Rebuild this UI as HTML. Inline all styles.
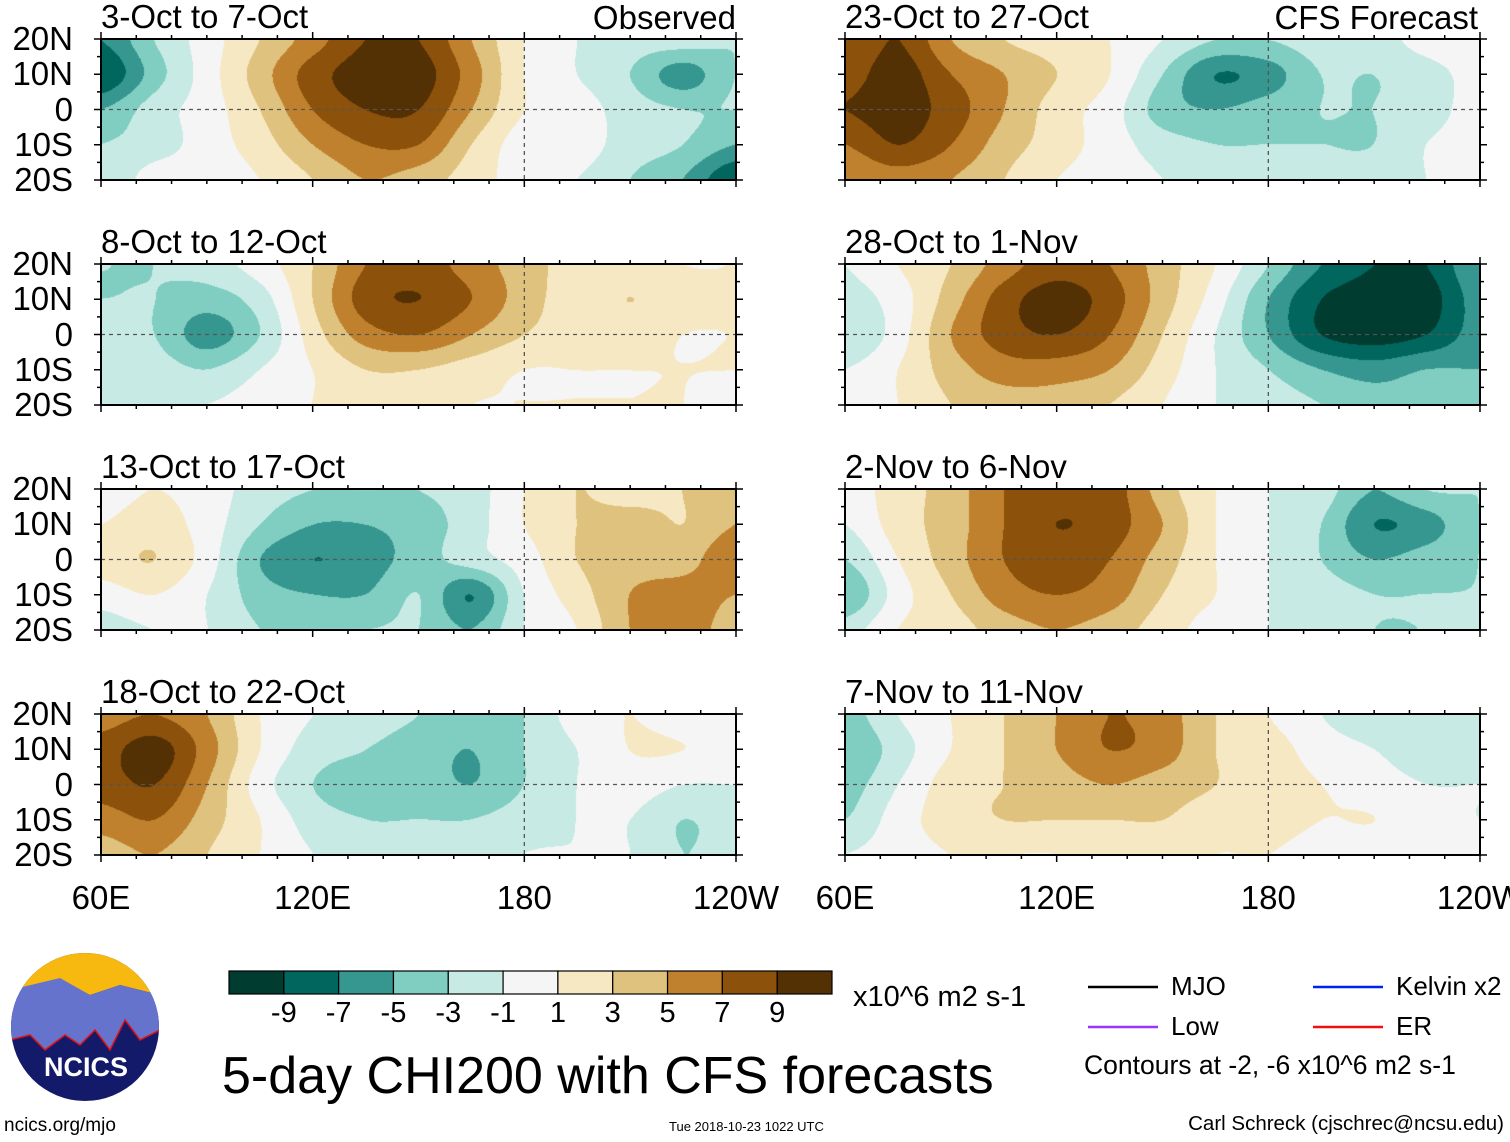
<!DOCTYPE html>
<html><head><meta charset="utf-8"><style>
body{margin:0;background:#fff;width:1510px;height:1142px;position:relative;overflow:hidden;font-family:"Liberation Sans",sans-serif;}
.t{position:absolute;white-space:nowrap;color:#000;line-height:1;}
canvas{position:absolute;}
</style></head><body>
<svg id="ov" width="1510" height="1142" style="position:absolute;left:0;top:0"></svg>
<script>
// CHI200 values, rows 20N,10N,0,10S,20S; columns 60E..120W every 15 deg
const lonCols=[60,75,90,105,120,135,150,165,180,195,210,225,240];
const latRows=[20,10,0,-10,-20];
const p1=[[-7,-3,0,3,6,9,9,5,1,-1,-2,-2,-3],[-9,-4,0,4,8,10,10,6,1,-1,-3,-6,-3],[-5,-2,0,3,7,9,9,5,1,0,-2,-3,-3],[-3,-2,0,2,5,7,7,3,0,0,-2,-3,-5],[-3,0,0,1,3,5,4,2,0,-1,-3,-5,-9]];
const p2=[[7,9,5,3,2,1,-1,-3,-3,-2,-2,0,1],[8,10,7,5,3,1,-3,-7,-6,-3,-3,-2,0],[9,10,8,5,2,0,-4,-5,-4,-3,-3,-2,0],[7,9,7,4,2,0,-2,-3,-3,-3,-3,-1,0],[5,6,5,3,1,0,-1,-2,-2,-2,-2,-1,0]];
const p3=[[-3,-3,-2,0,3,7,8,6,4,2,2,1,1],[-3,-3,-4,-2,3,8,9,7,4,2,3,2,1],[-2,-3,-6,-3,2,6,7,5,3,2,2,1,1],[-2,-2,-3,-1,1,3,3,2,1,1,1,1,1],[-1,-1,-1,0,1,2,2,1,1,1,1,1,0]];
const p4=[[-1,1,3,6,8,7,4,1,-3,-7,-9,-9,-5],[-2,0,4,8,10,8,4,0,-5,-9,-10,-10,-6],[-3,0,5,8,9,7,3,-1,-5,-9,-10,-9,-6],[-1,1,4,6,6,5,2,-1,-3,-5,-6,-5,-5],[0,1,3,4,4,3,1,-1,-2,-3,-4,-4,-3]];
const p5=[[0,1,0,-2,-3,-3,-3,-2,1,3,2,3,5],[1,2,0,-3,-5,-5,-4,-2,1,3,4,3,5],[2,3,0,-5,-7,-6,-4,-2,0,3,4,4,7],[0,1,-1,-4,-5,-5,-3,-7,-1,2,5,6,5],[-2,-1,-1,-3,-3,-3,-3,-5,-1,1,5,6,4]];
const p6=[[0,2,4,7,8,8,4,1,-1,-2,-5,-3,-3],[-1,2,4,7,9,8,5,1,-1,-3,-7,-6,-3],[-3,1,4,7,8,7,4,1,-1,-3,-5,-4,-3],[-5,0,3,6,7,6,3,1,-1,-2,-3,-3,-3],[-2,1,2,4,5,4,2,0,-1,-2,-3,-3,-3]];
const p7=[[6,7,5,1,-1,-2,-3,-4,-3,0,1,0,0],[8,10,6,1,-2,-3,-4,-5,-3,-1,1,1,0],[8,9,5,0,-3,-4,-4,-5,-3,-1,0,-1,-1],[6,7,4,1,-2,-3,-3,-3,-2,-1,-1,-3,-2],[4,5,3,1,-1,-2,-2,-2,-1,-1,-1,-3,-2]];
const p8=[[-4,-1,1,3,5,7,6,3,1,-1,-2,-1,-2],[-5,-2,1,3,5,7,6,3,2,0,-1,-2,-2],[-4,-1,2,3,4,5,4,3,2,1,0,-1,-1],[-3,0,2,3,3,3,3,2,2,1,1,0,-1],[-1,0,1,1,1,2,2,1,1,0,0,0,0]];
const panelTitles=["3-Oct to 7-Oct","23-Oct to 27-Oct","8-Oct to 12-Oct","28-Oct to 1-Nov","13-Oct to 17-Oct","2-Nov to 6-Nov","18-Oct to 22-Oct","7-Nov to 11-Nov"];
const panelData=[p1,p2,p3,p4,p5,p6,p7,p8];
const levels=[-9,-7,-5,-3,-1,1,3,5,7,9];
const palette=["#003c30","#01665e","#35978f","#80cdc1","#c7eae5","#f5f5f5","#f6e8c3","#dfc27d","#bf812d","#8c510a","#543005"];
const latTicks=["20N","10N","0","10S","20S"];
const lonTicks=["60E","120E","180","120W"];

const PW=635,PH=141,colX=[101,845],rowY=[39,264,489,714];
const ov=document.getElementById('ov');
const NS='http://www.w3.org/2000/svg';
function xs(lon,x0){return x0+(lon-60)/180*PW;}
function ys(lat,y0){return y0+(20-lat)/40*PH;}
function hex(c){return [parseInt(c.slice(1,3),16),parseInt(c.slice(3,5),16),parseInt(c.slice(5,7),16)];}
const pal=palette.map(hex);
function txt(s,x,y,size,name,anchor){const e=document.createElement('div');e.className='t';e.textContent=s;e.style.left=x+'px';e.style.top=y+'px';e.style.fontSize=size+'px';if(anchor==='end'){e.style.left='auto';e.style.right=(1510-x)+'px';}if(anchor==='mid'){e.style.transform='translateX(-50%)';}


document.body.appendChild(e);return e;}
function sv(tag,attrs){const e=document.createElementNS(NS,tag);for(const k in attrs)e.setAttribute(k,attrs[k]);ov.appendChild(e);return e;}
function cr(p0,p1,p2,p3,t){return 0.5*(2*p1+(-p0+p2)*t+(2*p0-5*p1+4*p2-p3)*t*t+(-p0+3*p1-3*p2+p3)*t*t*t);}

panelData.forEach((d,i)=>{
  const x0=colX[i%2],y0=rowY[Math.floor(i/2)];
  const cv=document.createElement('canvas');cv.width=PW;cv.height=PH;cv.style.left=x0+'px';cv.style.top=y0+'px';
  
  
  document.body.insertBefore(cv,ov);
  const ctx=cv.getContext('2d');const img=ctx.createImageData(PW,PH);
  const nc=lonCols.length-1,nr=latRows.length-1;
  const g=(r,c)=>d[Math.max(0,Math.min(nr,r))][Math.max(0,Math.min(nc,c))];
  for(let y=0;y<PH;y++)for(let x=0;x<PW;x++){
    const lon=60+x/(PW-1)*180,lat=20-y/(PH-1)*40;
    let u=(lon-lonCols[0])/(lonCols[nc]-lonCols[0])*nc,v=(latRows[0]-lat)/(latRows[0]-latRows[nr])*nr;
    let c=Math.min(nc-1,Math.floor(u)),r=Math.min(nr-1,Math.floor(v));const fu=u-c,fv=v-r;
    const rowv=[];
    for(let k=-1;k<=2;k++)rowv.push(cr(g(r+k,c-1),g(r+k,c),g(r+k,c+1),g(r+k,c+2),fu));
    const val=cr(rowv[0],rowv[1],rowv[2],rowv[3],fv)+0.013;
    let k=0;while(k<levels.length&&val>=levels[k])k++;
    const col=pal[k],p=(y*PW+x)*4;img.data[p]=col[0];img.data[p+1]=col[1];img.data[p+2]=col[2];img.data[p+3]=255;
  }
  ctx.putImageData(img,0,0);
  const gg=sv('g',{});
  
  
  sv('line',{x1:x0,x2:x0+PW,y1:ys(0,y0),y2:ys(0,y0),stroke:'#555','stroke-dasharray':'4,4','stroke-width':1.3});
  sv('line',{x1:xs(180,x0),x2:xs(180,x0),y1:y0,y2:y0+PH,stroke:'#555','stroke-dasharray':'4,4','stroke-width':1.3});
  sv('rect',{x:x0,y:y0,width:PW,height:PH,fill:'none',stroke:'#000','stroke-width':2});
  for(let lon=60;lon<=240;lon+=10){const X=xs(lon,x0),L=lon%60===0?7:4;
    sv('line',{x1:X,x2:X,y1:y0,y2:y0-L,stroke:'#000','stroke-width':1.5});sv('line',{x1:X,x2:X,y1:y0+PH,y2:y0+PH+L,stroke:'#000','stroke-width':1.5});}
  for(let lat=-20;lat<=20;lat+=5){const Y=ys(lat,y0),L=lat%10===0?7:4;
    sv('line',{x1:x0,x2:x0-L,y1:Y,y2:Y,stroke:'#000','stroke-width':1.5});sv('line',{x1:x0+PW,x2:x0+PW+L,y1:Y,y2:Y,stroke:'#000','stroke-width':1.5});}
  txt(panelTitles[i],x0,y0-39,33,'panel-title-'+(i+1));
  if(i%2===0) latTicks.forEach((t,j)=>txt(t,73,ys(latRows[j],y0)-17,33,'lat-label','end'));
  if(i>=6) lonTicks.forEach((t,j)=>txt(t,xs(60+60*j,x0),881,33,'lon-label','mid'));
});
txt("Observed",736,1,33,'observed-label','end');
txt("CFS Forecast",1478,1,33,'cfs-forecast-label','end');

// colorbar
const cbX=229,cbY=971,cbW=603,cbH=23,bw=cbW/palette.length;
palette.forEach((c,k)=>{const r=sv('rect',{x:cbX+k*bw,y:cbY,width:bw,height:cbH,fill:c,stroke:'#000','stroke-width':1.2});

});
levels.forEach((l,k)=>txt(String(l),cbX+(k+1)*bw,999,29,'colorbar-label','mid'));
txt("x10^6 m2 s-1",853,983,29,'colorbar-units');
txt("5-day CHI200 with CFS forecasts",222,1050,52,'main-title');
// legend
const leg=[["MJO","#000",1088,987],["Kelvin x2","#0022ee",1313,987],["Low","#9933ff",1088,1027],["ER","#ee1111",1313,1027]];
leg.forEach(l=>{const ln=sv('line',{x1:l[2],x2:l[2]+70,y1:l[3],y2:l[3],stroke:l[1],'stroke-width':2.5});


txt(l[0],l[2]+83,l[3]-14,26,'legend-label');});
txt("Contours at -2, -6 x10^6 m2 s-1",1084,1052,26.5,'contours-note');
txt("ncics.org/mjo",4,1116,19,'url-label');
txt("Tue 2018-10-23 1022 UTC",669,1120,13,'timestamp');
txt("Carl Schreck (cjschrec@ncsu.edu)",1504,1114,20.5,'author-label','end');
// logo
const lg=sv('g',{});


sv('defs',{}).innerHTML='<clipPath id="lc"><ellipse cx="85" cy="1027" rx="74" ry="74"/></clipPath>';
sv('ellipse',{cx:85,cy:1027,rx:74,ry:74,fill:'#141a6a'});
sv('path',{d:'M10,953 H160 V995 L120,985 L90,995 L60,980 L10,990 Z',fill:'#f7b90f','clip-path':'url(#lc)'});
sv('path',{d:'M10,990 L60,978 L90,995 L120,985 L160,995 V1030 L140,1040 L125,1020 L110,1050 L95,1030 L80,1045 L65,1035 L45,1050 L30,1035 L10,1040 Z',fill:'#6673cc','clip-path':'url(#lc)'});
sv('path',{d:'M10,1040 L30,1035 L45,1050 L65,1035 L80,1045 L95,1030 L110,1050 L125,1020 L140,1040 L160,1030',fill:'none',stroke:'#e01010','stroke-width':1.5,'clip-path':'url(#lc)'});
const nt=sv('text',{x:86,y:1076,'text-anchor':'middle','font-family':'Liberation Sans, sans-serif','font-size':27,'font-weight':'bold',fill:'#fff'});nt.textContent='NCICS';
</script>
</body></html>
